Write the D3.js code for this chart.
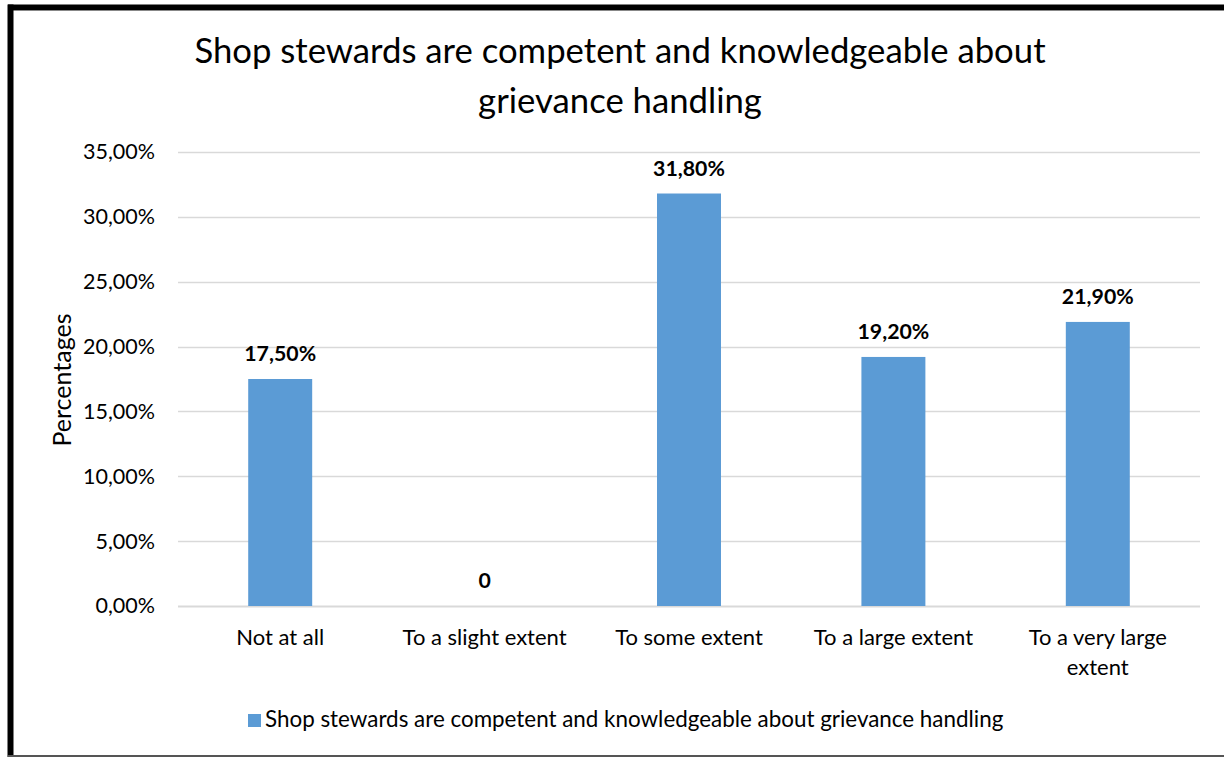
<!DOCTYPE html>
<html>
<head>
<meta charset="utf-8">
<script src="https://cdn.jsdelivr.net/npm/d3@7"></script>
<style>
  html, body { margin: 0; padding: 0; background: #fff; }
  svg { display: block; }
  text { font-family: Lato, "Open Sans", sans-serif; fill: #000; }
</style>
</head>
<body>
<svg id="chart" width="1224" height="757"></svg>
<script>
// Survey responses: share of respondents per answer category
const categories = ["Not at all", "To a slight extent", "To some extent", "To a large extent", "To a very large extent"];
const values = [17.5, 0, 31.8, 19.2, 21.9];
const valueLabels = ["17,50%", "0", "31,80%", "19,20%", "21,90%"];
const yTicks = [0, 5, 10, 15, 20, 25, 30, 35];
const titleLines = ["Shop stewards are competent and knowledgeable about", "grievance handling"];
const seriesName = "Shop stewards are competent and knowledgeable about grievance handling";

const W = 1224, H = 757;
const margin = { left: 178, right: 24, top: 152, bottom: 151 };
const barColor = "#5B9BD5";

const svg = d3.select("#chart");

// Outer frame of the figure
svg.append("rect").attr("x", 0).attr("y", 0).attr("width", W).attr("height", H).attr("fill", "#fff");
svg.append("line").attr("x1", 8).attr("x2", W).attr("y1", 7.5).attr("y2", 7.5)
  .attr("stroke", "#000").attr("stroke-width", 6);
svg.append("line").attr("x1", 8).attr("x2", W).attr("y1", 10.5).attr("y2", 10.5)
  .attr("stroke", "#888").attr("stroke-width", 1);
svg.append("line").attr("x1", 10.5).attr("x2", 10.5).attr("y1", 4.5).attr("y2", H)
  .attr("stroke", "#000").attr("stroke-width", 6);
svg.append("line").attr("x1", 8).attr("x2", W).attr("y1", 756).attr("y2", 756)
  .attr("stroke", "#555").attr("stroke-width", 2);

const x = d3.scaleBand()
  .domain(categories)
  .range([margin.left, W - margin.right])
  .paddingInner(0.687)
  .paddingOuter(0.3435);

const y = d3.scaleLinear()
  .domain([0, 35])
  .range([H - margin.bottom, margin.top]);

// Gridlines
svg.append("g")
  .selectAll("line")
  .data(yTicks)
  .join("line")
  .attr("x1", margin.left)
  .attr("x2", W - margin.right)
  .attr("y1", d => Math.round(y(d)) + 0.5)
  .attr("y2", d => Math.round(y(d)) + 0.5)
  .attr("stroke", "#d9d9d9")
  .attr("stroke-width", d => d === 0 ? 2 : 1.3);

// Y axis labels
const yAxis = d3.axisLeft(y)
  .tickValues(yTicks)
  .tickSize(0)
  .tickPadding(0)
  .tickFormat(d => d3.format(".2f")(d).replace(".", ",") + "%");
const gy = svg.append("g").attr("transform", `translate(155,0)`).call(yAxis);
gy.select(".domain").remove();
gy.selectAll("text").style("font-family", "Lato, sans-serif").attr("font-size", 21.5).attr("fill", "#000");

// Bars
svg.append("g")
  .selectAll("rect")
  .data(values)
  .join("rect")
  .attr("x", (d, i) => x(categories[i]))
  .attr("width", x.bandwidth())
  .attr("y", d => y(d))
  .attr("height", d => y(0) - y(d))
  .attr("fill", barColor);

// Value labels
svg.append("g")
  .selectAll("text")
  .data(values)
  .join("text")
  .attr("x", (d, i) => x(categories[i]) + x.bandwidth() / 2)
  .attr("y", d => y(d) - 18)
  .attr("text-anchor", "middle")
  .attr("font-size", 21.3)
  .attr("font-weight", "bold")
  .text((d, i) => valueLabels[i]);

// Category labels (wrapped where needed)
const wrapped = {
  "To a very large extent": ["To a very large", "extent"]
};
const xl = svg.append("g");
categories.forEach(c => {
  const lines = wrapped[c] || [c];
  const t = xl.append("text")
    .attr("x", x(c) + x.bandwidth() / 2)
    .attr("y", 645)
    .attr("text-anchor", "middle")
    .attr("font-size", 22);
  lines.forEach((ln, k) => {
    t.append("tspan").attr("x", x(c) + x.bandwidth() / 2).attr("dy", k === 0 ? 0 : 30).text(ln);
  });
});

// Y axis title
svg.append("text")
  .attr("transform", "translate(71,380) rotate(-90)")
  .attr("text-anchor", "middle")
  .attr("font-size", 25)
  .text("Percentages");

// Chart title
titleLines.forEach((ln, k) => {
  svg.append("text")
    .attr("x", 620)
    .attr("y", 63 + k * 50)
    .attr("text-anchor", "middle")
    .attr("font-size", 34.7)
    .text(ln);
});

// Legend
svg.append("rect").attr("x", 248).attr("y", 714).attr("width", 13).attr("height", 13).attr("fill", barColor);
svg.append("text").attr("x", 265).attr("y", 727).attr("font-size", 22.4).text(seriesName);
</script>
</body>
</html>
